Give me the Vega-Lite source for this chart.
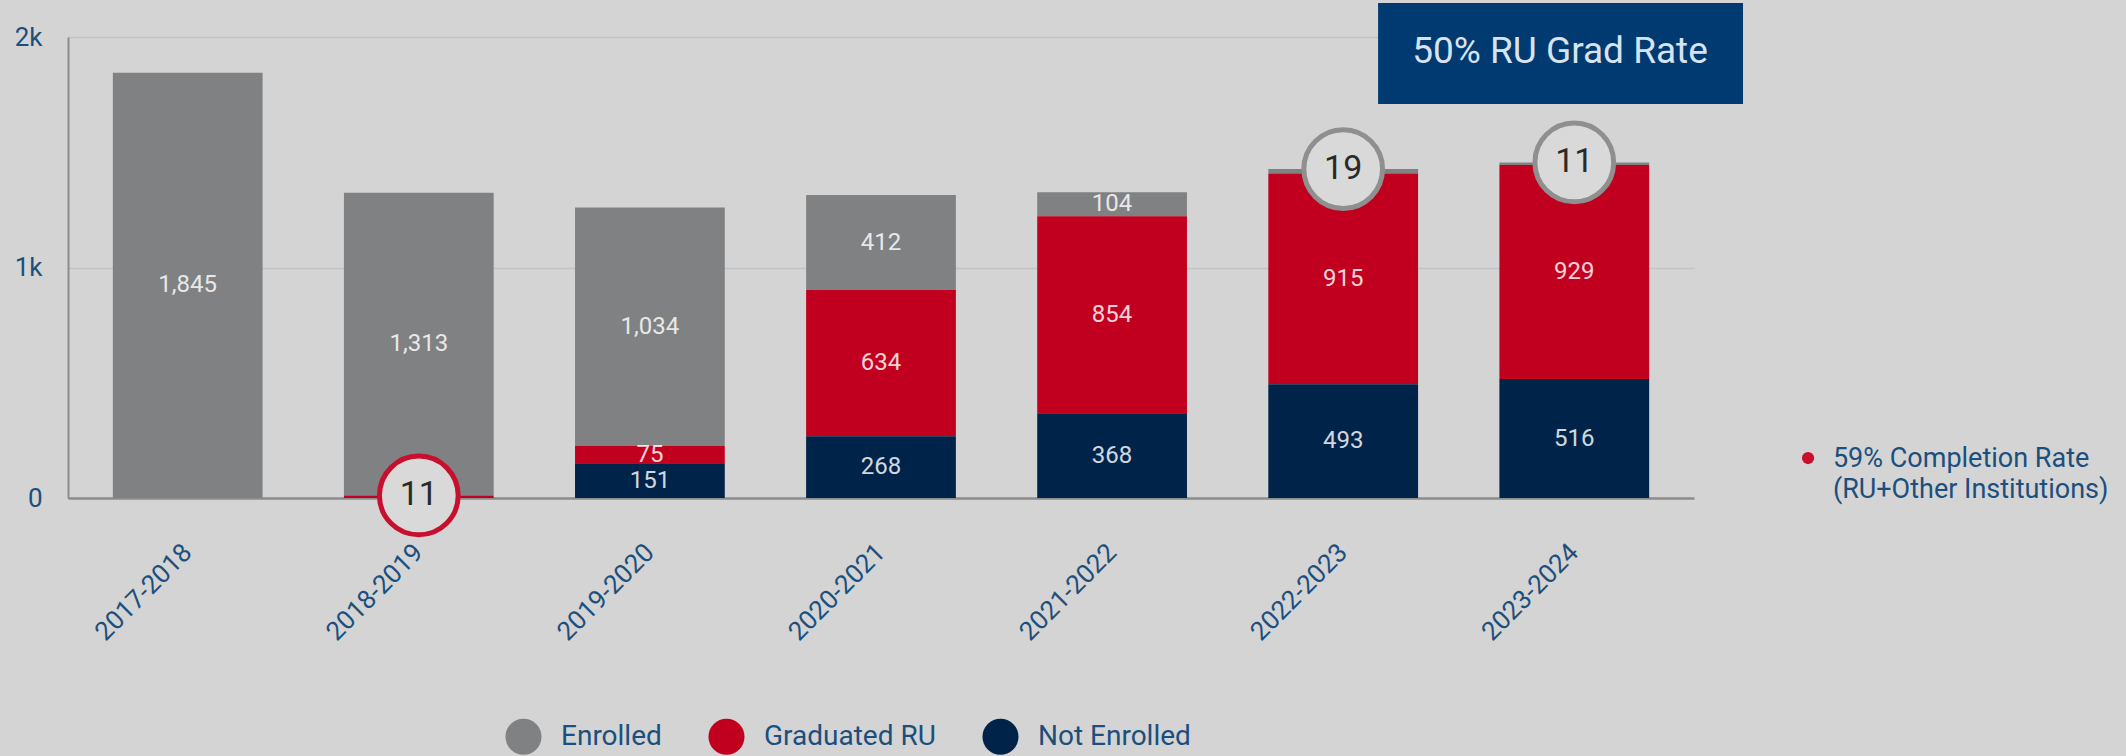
{
  "$schema": "https://vega.github.io/schema/vega-lite/v6.json",
  "width": 1626,
  "height": 461,
  "autosize": {"type": "none"},
  "padding": {"left": 68, "top": 37, "right": 432, "bottom": 258},
  "background": "#d4d4d4",
  "config": {
    "view": {"stroke": null},
    "font": "Roboto",
    "legend": {"padding": 0}
  },
  "datasets": {
    "enroll": [
      {"year": "2017-2018", "category": "Enrolled", "value": 1845},
      {"year": "2018-2019", "category": "Enrolled", "value": 1313},
      {"year": "2018-2019", "category": "Graduated RU", "value": 11},
      {"year": "2019-2020", "category": "Enrolled", "value": 1034},
      {"year": "2019-2020", "category": "Graduated RU", "value": 75},
      {"year": "2019-2020", "category": "Not Enrolled", "value": 151},
      {"year": "2020-2021", "category": "Enrolled", "value": 412},
      {"year": "2020-2021", "category": "Graduated RU", "value": 634},
      {"year": "2020-2021", "category": "Not Enrolled", "value": 268},
      {"year": "2021-2022", "category": "Enrolled", "value": 104},
      {"year": "2021-2022", "category": "Graduated RU", "value": 854},
      {"year": "2021-2022", "category": "Not Enrolled", "value": 368},
      {"year": "2022-2023", "category": "Enrolled", "value": 19},
      {"year": "2022-2023", "category": "Graduated RU", "value": 915},
      {"year": "2022-2023", "category": "Not Enrolled", "value": 493},
      {"year": "2023-2024", "category": "Enrolled", "value": 11},
      {"year": "2023-2024", "category": "Graduated RU", "value": 929},
      {"year": "2023-2024", "category": "Not Enrolled", "value": 516}
    ]
  },
  "data": {"name": "enroll"},
  "layer": [
    {
      "transform": [
        {"stack": "value", "groupby": ["year"], "sort": [{"field": "category", "order": "descending"}], "as": ["v0", "v1"]}
      ],
      "layer": [
        {
          "mark": {"type": "bar"},
          "encoding": {
            "x": {
              "field": "year", "type": "nominal",
              "scale": {"domain": ["2017-2018", "2018-2019", "2019-2020", "2020-2021", "2021-2022", "2022-2023", "2023-2024"], "paddingInner": 0.352, "paddingOuter": 0.194},
              "axis": {"title": null, "labelAngle": -45, "labelAlign": "right", "labelBaseline": "middle", "labelPadding": 50, "labelFontSize": 26, "labelColor": "#1b4f7e", "domainColor": "#8c8c8c", "domainWidth": 2.5, "ticks": false, "tickSize": 0, "grid": false}
            },
            "y": {
              "field": "v0", "type": "quantitative",
              "scale": {"domain": [0, 2000], "nice": false},
              "axis": {"title": null, "values": [0, 1000, 2000], "labelExpr": "datum.value === 0 ? '0' : (datum.value / 1000) + 'k'", "labelFontSize": 26, "labelColor": "#1b4f7e", "labelPadding": 26, "ticks": false, "tickSize": 0, "grid": true, "gridColor": "#c0c3c6", "gridWidth": 1.5, "domainColor": "#8c8c8c", "domainWidth": 2}
            },
            "y2": {"field": "v1"},
            "color": {
              "field": "category", "type": "nominal",
              "scale": {"domain": ["Enrolled", "Graduated RU", "Not Enrolled"], "range": ["#7f8183", "#c1001f", "#00234a"]},
              "legend": {"title": null, "orient": "none", "legendX": 437, "legendY": 681, "direction": "horizontal", "symbolType": "circle", "symbolSize": 1300, "symbolStrokeWidth": 0, "labelFontSize": 28, "labelLimit": 400, "labelColor": "#1b4f7e", "columnPadding": 46, "labelOffset": 19}
            }
          }
        },
        {
          "transform": [
            {"filter": "datum.value >= 25"},
            {"fold": ["v0", "v1"], "as": ["edge", "pos"]}
          ],
          "mark": {"type": "text", "fontSize": 24, "fill": "#ffffff", "opacity": 0.82, "baseline": "middle", "align": "center"},
          "encoding": {
            "x": {"field": "year", "type": "nominal"},
            "y": {"field": "pos", "aggregate": "mean", "type": "quantitative", "scale": {"domain": [0, 2000], "nice": false}},
            "text": {"field": "value", "type": "quantitative", "format": ","},
            "detail": {"field": "category"}
          }
        },
        {
          "transform": [{"filter": "datum.value < 25"}],
          "mark": {"type": "point", "shape": "circle", "filled": true, "fill": "#d9d9d9", "fillOpacity": 1, "strokeOpacity": 1, "opacity": 1, "size": 6200, "strokeWidth": 5},
          "encoding": {
            "x": {"field": "year", "type": "nominal"},
            "y": {"field": "v1", "type": "quantitative", "scale": {"domain": [0, 2000], "nice": false}},
            "stroke": {"field": "category", "type": "nominal", "scale": {"domain": ["Enrolled", "Graduated RU", "Not Enrolled"], "range": ["#8f8f8f", "#c8102e", "#00234a"]}, "legend": null}
          }
        },
        {
          "transform": [{"filter": "datum.value < 25"}],
          "mark": {"type": "text", "fontSize": 34, "fill": "#2a2a2a", "baseline": "middle", "align": "center"},
          "encoding": {
            "x": {"field": "year", "type": "nominal"},
            "y": {"field": "v1", "type": "quantitative", "scale": {"domain": [0, 2000], "nice": false}},
            "text": {"field": "value", "type": "quantitative"}
          }
        }
      ]
    },
    {
      "data": {"values": [{}]},
      "mark": {"type": "rect", "fill": "#003a70"},
      "encoding": {
        "x": {"datum": 5.64, "type": "quantitative", "scale": {"domain": [0, 7], "nice": false, "zero": false}, "axis": null},
        "x2": {"datum": 7.211},
        "y": {"datum": 2147, "type": "quantitative", "scale": {"domain": [0, 2000], "nice": false}},
        "y2": {"datum": 1709}
      }
    },
    {
      "data": {"values": [{}]},
      "mark": {"type": "text", "text": "50% RU Grad Rate", "fontSize": 37, "fill": "#d8e3ef", "align": "center", "baseline": "middle"},
      "encoding": {
        "x": {"datum": 6.423, "type": "quantitative", "scale": {"domain": [0, 7], "nice": false, "zero": false}, "axis": null},
        "y": {"datum": 1935, "type": "quantitative", "scale": {"domain": [0, 2000], "nice": false}}
      }
    },
    {
      "data": {"values": [{}]},
      "mark": {"type": "point", "shape": "circle", "filled": true, "fill": "#c8102e", "opacity": 1, "size": 150},
      "encoding": {
        "x": {"datum": 7.491, "type": "quantitative", "scale": {"domain": [0, 7], "nice": false, "zero": false}, "axis": null},
        "y": {"datum": 173.5, "type": "quantitative", "scale": {"domain": [0, 2000], "nice": false}}
      }
    },
    {
      "data": {"values": [{}]},
      "mark": {"type": "text", "text": ["59% Completion  Rate", "(RU+Other Institutions)"], "fontSize": 27, "lineHeight": 31, "fill": "#1b4f7e", "align": "left", "baseline": "top"},
      "encoding": {
        "x": {"datum": 7.598, "type": "quantitative", "scale": {"domain": [0, 7], "nice": false, "zero": false}, "axis": null},
        "y": {"datum": 226, "type": "quantitative", "scale": {"domain": [0, 2000], "nice": false}}
      }
    }
  ],
  "resolve": {"scale": {"x": "independent"}}
}
